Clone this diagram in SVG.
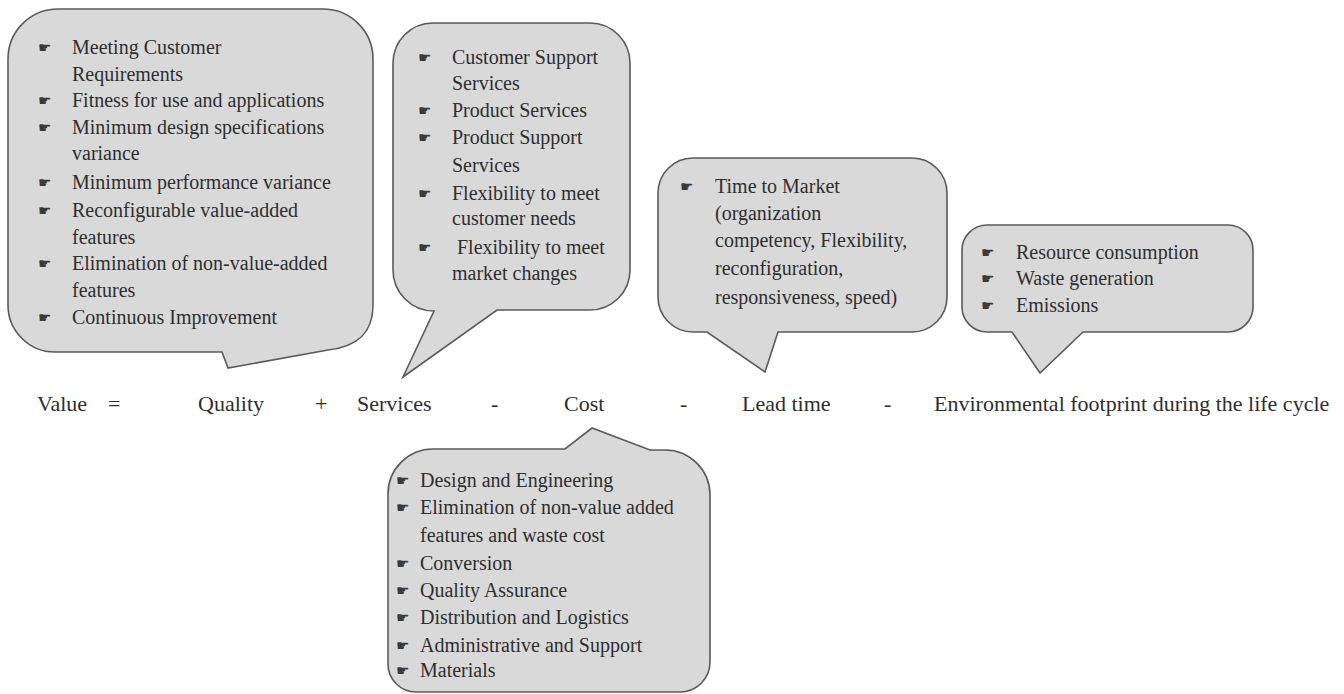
<svg xmlns="http://www.w3.org/2000/svg" width="1344" height="694" viewBox="0 0 1344 694">
<style>
.b{fill:#d9d9d9;stroke:#5a5a5a;stroke-width:1.6}
.t{font-family:"Liberation Serif","Times New Roman",serif;font-size:20px;fill:#2e2e2e}
.h{font-family:"DejaVu Sans",sans-serif;font-size:15px;fill:#3a3a3a}
.e{font-family:"Liberation Serif","Times New Roman",serif;font-size:22px;fill:#2e2e2e}
</style>
<rect width="1344" height="694" fill="#ffffff"/>
<g id="quality">
<path class="b" d="M58,9 H323 A50,50 0 0 1 373,59 V305 C373,335 355,347 328,350 L228,368 L222,352 H55 A47,47 0 0 1 8,305 V59 A50,50 0 0 1 58,9 Z"/>
<text class="h" x="38" y="53">☛</text><text class="t" x="72" y="54">Meeting Customer</text>
<text class="t" x="72" y="81">Requirements</text>
<text class="h" x="38" y="106">☛</text><text class="t" x="72" y="107">Fitness for use and applications</text>
<text class="h" x="38" y="133">☛</text><text class="t" x="72" y="134">Minimum design specifications</text>
<text class="t" x="72" y="160">variance</text>
<text class="h" x="38" y="188">☛</text><text class="t" x="72" y="189">Minimum performance variance</text>
<text class="h" x="38" y="216">☛</text><text class="t" x="72" y="217">Reconfigurable value-added</text>
<text class="t" x="72" y="244">features</text>
<text class="h" x="38" y="269">☛</text><text class="t" x="72" y="270">Elimination of non-value-added</text>
<text class="t" x="72" y="297">features</text>
<text class="h" x="38" y="323">☛</text><text class="t" x="72" y="324">Continuous Improvement</text>
</g>
<g id="services">
<path class="b" d="M433,23 H590 A40,40 0 0 1 630,63 V270 A40,40 0 0 1 590,310 H497 L403,377 L434,311 A41,41 0 0 1 393,270 V63 A40,40 0 0 1 433,23 Z"/>
<text class="h" x="418" y="63">☛</text><text class="t" x="452" y="64">Customer Support</text>
<text class="t" x="452" y="90">Services</text>
<text class="h" x="418" y="116">☛</text><text class="t" x="452" y="117">Product Services</text>
<text class="h" x="418" y="143">☛</text><text class="t" x="452" y="144">Product Support</text>
<text class="t" x="452" y="172">Services</text>
<text class="h" x="418" y="199">☛</text><text class="t" x="452" y="200">Flexibility to meet</text>
<text class="t" x="452" y="225">customer needs</text>
<text class="h" x="418" y="253">☛</text><text class="t" x="457" y="254">Flexibility to meet</text>
<text class="t" x="452" y="280">market changes</text>
</g>
<g id="leadtime">
<path class="b" d="M693,158 H912 A35,35 0 0 1 947,193 V297 A35,35 0 0 1 912,332 H778 L765,372 L707,332 H693 A35,35 0 0 1 658,297 V193 A35,35 0 0 1 693,158 Z"/>
<text class="h" x="680" y="192">☛</text><text class="t" x="715" y="193">Time to Market</text>
<text class="t" x="715" y="220">(organization</text>
<text class="t" x="715" y="247">competency, Flexibility,</text>
<text class="t" x="715" y="275">reconfiguration,</text>
<text class="t" x="715" y="304">responsiveness, speed)</text>
</g>
<g id="environment">
<path class="b" d="M987,225 H1228 A25,25 0 0 1 1253,250 V307 A25,25 0 0 1 1228,332 H1083 L1040,373 L1012,332 H987 A25,25 0 0 1 962,307 V250 A25,25 0 0 1 987,225 Z"/>
<text class="h" x="981" y="258">☛</text><text class="t" x="1016" y="259">Resource consumption</text>
<text class="h" x="981" y="284">☛</text><text class="t" x="1016" y="285">Waste generation</text>
<text class="h" x="981" y="311">☛</text><text class="t" x="1016" y="312">Emissions</text>
</g>
<g id="cost">
<path class="b" d="M433,449 H565 L592,428 L650,450 H665 A45,45 0 0 1 710,495 V662 A30,30 0 0 1 680,692 H416 A28,28 0 0 1 388,664 V494 A45,45 0 0 1 433,449 Z"/>
<text class="h" x="396" y="486">☛</text><text class="t" x="420" y="487">Design and Engineering</text>
<text class="h" x="396" y="513">☛</text><text class="t" x="420" y="514">Elimination of non-value added</text>
<text class="t" x="420" y="542">features and waste cost</text>
<text class="h" x="396" y="569">☛</text><text class="t" x="420" y="570">Conversion</text>
<text class="h" x="396" y="596">☛</text><text class="t" x="420" y="597">Quality Assurance</text>
<text class="h" x="396" y="623">☛</text><text class="t" x="420" y="624">Distribution and Logistics</text>
<text class="h" x="396" y="651">☛</text><text class="t" x="420" y="652">Administrative and Support</text>
<text class="h" x="396" y="676">☛</text><text class="t" x="420" y="677">Materials</text>
</g>
<g id="equation">
<text class="e" x="37" y="411">Value</text>
<text class="e" x="108" y="411">=</text>
<text class="e" x="198" y="411">Quality</text>
<text class="e" x="315" y="411">+</text>
<text class="e" x="357" y="411">Services</text>
<text class="e" x="491" y="411">-</text>
<text class="e" x="564" y="411">Cost</text>
<text class="e" x="680" y="411">-</text>
<text class="e" x="742" y="411">Lead time</text>
<text class="e" x="884" y="411">-</text>
<text class="e" x="934" y="411">Environmental footprint during the life cycle</text>
</g>
<g id="connectors"></g>
</svg>
